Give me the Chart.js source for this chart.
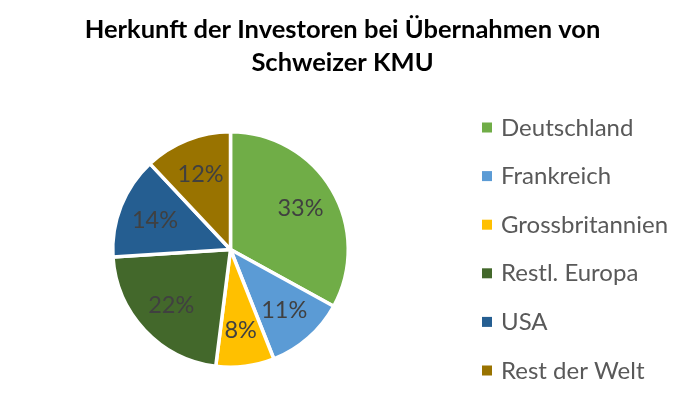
<!DOCTYPE html>
<html><head><meta charset="utf-8">
<script src="https://cdn.jsdelivr.net/npm/chart.js@4.4.1/dist/chart.umd.min.js"></script>
<style>html,body{margin:0;padding:0;background:#fff}#wrap{width:695px;height:395px;position:relative}</style>
</head><body><div id="wrap"><canvas id="c" width="695" height="395"></canvas></div>
<script>
const categories = ["Deutschland","Frankreich","Grossbritannien","Restl. Europa","USA","Rest der Welt"];
const shares = [33, 11, 8, 22, 14, 12];
const sliceColors = ["#70AD47","#5B9BD5","#FFC000","#43682B","#255E91","#997300"];
const titleLines = ["Herkunft der Investoren bei Übernahmen von","Schweizer KMU"];

const FONT = "Lato, 'Open Sans', sans-serif";

const titlePlugin = {
  id: 'twoLineTitle',
  afterDraw(chart) {
    const ctx = chart.ctx;
    ctx.save();
    ctx.font = "bold 25.5px " + FONT;
    ctx.fillStyle = "#000000";
    ctx.textAlign = "center";
    ctx.textBaseline = "alphabetic";
    ctx.fillText(titleLines[0], 342.5, 37.5);
    ctx.fillText(titleLines[1], 342.5, 70.5);
    ctx.restore();
  }
};

const labelPlugin = {
  id: 'sliceLabels',
  afterDatasetsDraw(chart) {
    const ctx = chart.ctx;
    const meta = chart.getDatasetMeta(0);
    ctx.save();
    ctx.font = "23.5px " + FONT;
    ctx.fillStyle = "#404040";
    ctx.textAlign = "center";
    ctx.textBaseline = "alphabetic";
    meta.data.forEach((arc, i) => {
      const p = arc.getProps(['x','y','startAngle','endAngle','outerRadius'], true);
      const mid = (p.startAngle + p.endAngle) / 2;
      const r = p.outerRadius * 0.69;
      ctx.fillText(shares[i] + "%", p.x + Math.cos(mid) * r, p.y + Math.sin(mid) * r + 8);
    });
    ctx.restore();
  }
};

const legendPlugin = {
  id: 'sideLegend',
  afterDraw(chart) {
    const ctx = chart.ctx;
    ctx.save();
    ctx.font = "24px " + FONT;
    ctx.textBaseline = "alphabetic";
    ctx.textAlign = "left";
    chart.data.labels.forEach((lab, i) => {
      const y = 127.5 + i * 48.6;
      ctx.fillStyle = sliceColors[i];
      ctx.fillRect(482, y - 5, 10, 10);
      ctx.fillStyle = "#595959";
      ctx.fillText(lab, 501, y + 8);
    });
    ctx.restore();
  }
};

new Chart(document.getElementById('c'), {
  type: 'pie',
  data: {
    labels: categories,
    datasets: [{
      data: shares,
      backgroundColor: sliceColors,
      borderColor: "#ffffff",
      borderWidth: 3.5,
      hoverOffset: 0
    }]
  },
  options: {
    responsive: false,
    animation: false,
    events: [],
    layout: { padding: { left: 111, right: 345, bottom: 26, top: 130 } },
    plugins: {
      legend: { display: false },
      tooltip: { enabled: false },
      title: { display: false }
    }
  },
  plugins: [labelPlugin, legendPlugin, titlePlugin]
});
</script></body></html>
